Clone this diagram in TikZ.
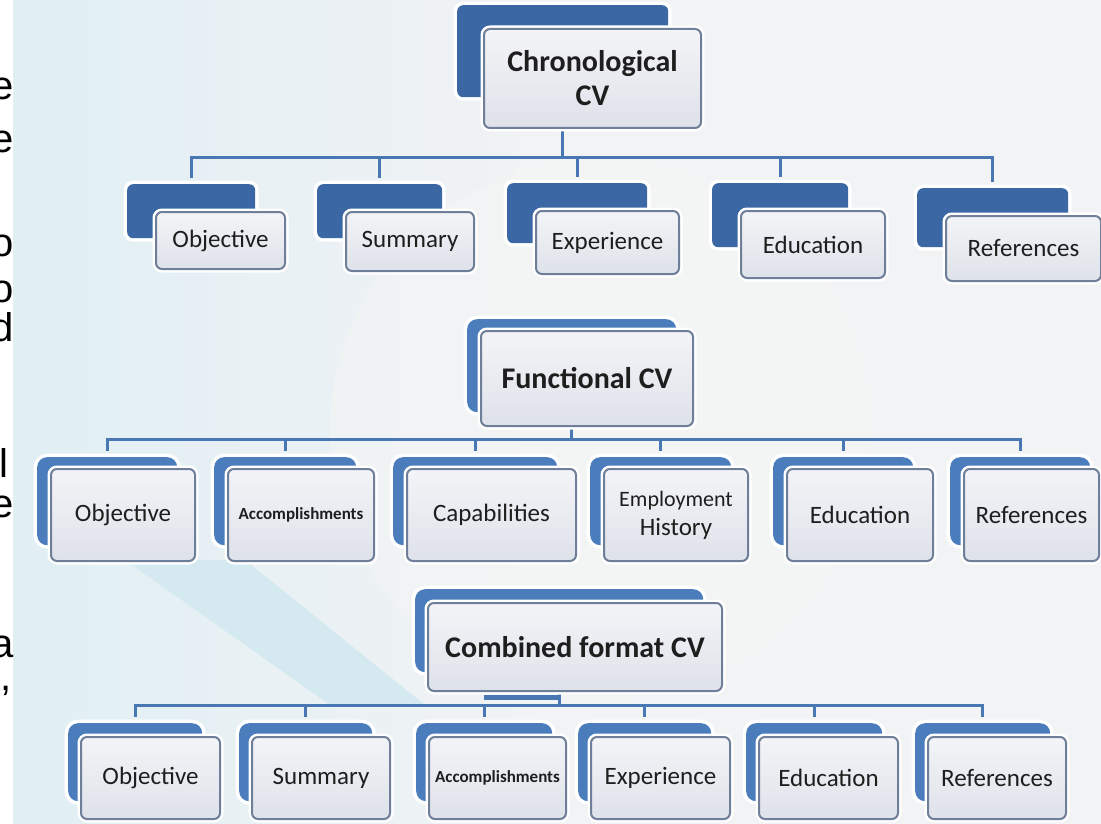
\documentclass[tikz,border=0pt]{standalone}
\usepackage{fontspec}
\usetikzlibrary{backgrounds}
\newfontfamily\cvfont{Carlito}
\newfontfamily\slidefont{Liberation Sans}
\newcommand\accfont{\bfseries\fontsize{17}{19}\selectfont}
\newcommand\histfont{\fontsize{22}{26}\selectfont}

\definecolor{cvdeep}{HTML}{3B68A4}
\definecolor{cvblue}{HTML}{4B7DBD}
\definecolor{boxedge}{HTML}{6F7F9A}
\definecolor{boxtop}{HTML}{F3F4F7}
\definecolor{boxbot}{HTML}{DEE2E9}
\definecolor{linkblue}{HTML}{4977B4}
\definecolor{cvtext}{HTML}{1E1E1E}
\definecolor{paper}{HTML}{F2F3F4}
\definecolor{mist}{HTML}{E0EFF4}
\definecolor{beam}{HTML}{D4EAF0}

\tikzset{
  glow/.style={preaction={draw=white, line width=7pt}},
  cvtab/.style={rectangle, anchor=north west, inner sep=0pt, rounded corners=6pt, fill=cvdeep, glow},
  softtab/.style={cvtab, rounded corners=10pt, fill=cvblue},
  card/.style={rectangle, anchor=north west, inner sep=0pt, rounded corners=6pt, draw=boxedge, line width=2pt,
    top color=boxtop, bottom color=boxbot, glow, text=cvtext, align=center, font=\cvfont\fontsize{25}{29}\selectfont},
  headcard/.style={card, font=\cvfont\bfseries\fontsize{30}{34}\selectfont},
  link/.style={draw=linkblue, line width=3pt},
  slidetext/.style={inner sep=0pt, text=black, font=\slidefont\fontsize{40}{46}\selectfont},
}

\begin{document}
\begin{tikzpicture}[x=1pt, y=-1pt]
  \useasboundingbox (0,0) rectangle (1101,824);

  % backdrop
  \begin{scope}[on background layer]
    \fill[paper] (0,0) rectangle (1101,824);
    \shade[left color=mist, right color=paper] (13,0) rectangle (560,824);
    \fill[black!4, opacity=.5] (600,430) circle (270);
    \fill[beam] (125,560) -- (245,560) -- (425,705) -- (330,705) -- cycle;
    \fill[white] (0,0) rectangle (13,824);
  \end{scope}

  % cut-off words on the left edge
  \begin{scope}
    \clip (0,0) rectangle (13,824);
    \foreach \y/\ch in {100/e,153/e,256/o,302/o,341/d,517/e,657/a}
      \node[slidetext, anchor=base east] (edge-\y) at (14,\y) {\ch};
    \node[slidetext, anchor=base west] (edge-l) at (-1,477) {l};
    \node[slidetext, anchor=base west] (edge-comma) at (0,690) {,};
  \end{scope}

  % chronological CV
  \node[cvtab, minimum width=211pt, minimum height=92pt] (chron-tab) at (457,5) {};
  \node[headcard, minimum width=217pt, minimum height=99pt] (chron) at (483,28) {Chronological\\CV};
  \foreach \n/\bx/\by/\bw/\bh/\fw/\fh/\lbl in {obj1/127/184/128/54/129/57/Objective,
      sum1/317/184/125/54/128/59/Summary, exp1/507/183/140/60/143/63/Experience,
      edu1/712/183/136/64/144/67/Education, ref1/917/188/151/59/155/65/References} {
    \node[cvtab, minimum width=\bw pt, minimum height=\bh pt] (\n-tab) at (\bx,\by) {};
    \node[card, minimum width=\fw pt, minimum height=\fh pt] (\n) at (\bx+28,\by+27) {\lbl};
  }

  % functional CV
  \node[softtab, minimum width=209pt, minimum height=93pt] (func-tab) at (467,319) {};
  \node[headcard, minimum width=212pt, minimum height=95pt] (func) at (480,330) {Functional CV};
  \foreach \n/\bx/\bw/\fw/\lbl in {obj2/37/140/144/Objective, acc2/214/142/146/{\accfont Accomplishments},
      cap2/393/164/169/Capabilities, emp2/590/141/144/{\histfont Employment\\History},
      edu2/773/140/146/Education, ref2/950/140/135/References} {
    \node[softtab, minimum width=\bw pt, minimum height=88pt] (\n-tab) at (\bx,457) {};
    \node[card, minimum width=\fw pt, minimum height=92pt] (\n) at (\bx+13,468) {\lbl};
  }

  % combined format CV
  \node[softtab, minimum width=288pt, minimum height=83pt] (comb-tab) at (415,589) {};
  \node[headcard, minimum width=294pt, minimum height=88pt] (comb) at (427,602) {Combined format CV};
  \foreach \n/\bx/\bw/\fw/\lbl in {obj3/68/134/139/Objective, sum3/239/133/138/Summary,
      acc3/416/136/137/{\accfont Accomplishments}, exp3/578/133/139/Experience,
      edu3/746/136/139/Education, ref3/915/135/138/References} {
    \node[softtab, minimum width=\bw pt, minimum height=78pt] (\n-tab) at (\bx,723) {};
    \node[card, minimum width=\fw pt, minimum height=82pt] (\n) at (\bx+12,736) {\lbl};
  }

  % connectors
  \coordinate (bus1) at (0,158);
  \coordinate (bus2) at (0,439);
  \coordinate (bus3) at (0,705);
  \coordinate (stub3) at (0,697);
  \begin{scope}[on background layer]
    \foreach \n in {obj1,sum1,exp1,edu1,ref1}
      \draw[link] (chron-tab.south) |- (bus1 -| \n-tab) -- ([yshift=6pt]\n-tab.north);
    \foreach \n in {obj2,acc2,cap2,emp2,edu2,ref2}
      \draw[link] (func-tab.south) |- (bus2 -| \n-tab) -- ([yshift=6pt]\n-tab.north);
    \foreach \n in {obj3,sum3,acc3,exp3,edu3,ref3}
      \draw[link] (comb-tab.south) |- (bus3 -| \n-tab) -- ([yshift=6pt]\n-tab.north);
    \draw[link, line width=5pt] (comb-tab |- stub3) -- (acc3-tab |- stub3);
  \end{scope}
\end{tikzpicture}
\end{document}
